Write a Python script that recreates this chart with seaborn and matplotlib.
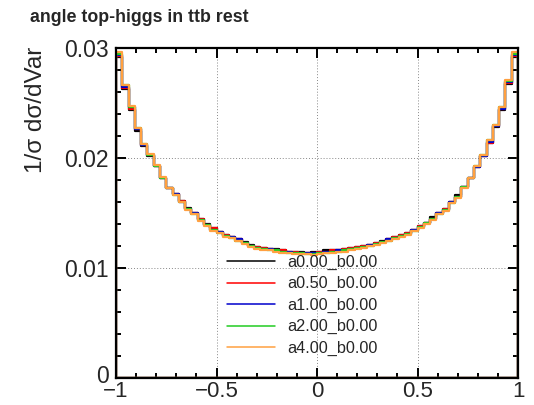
import numpy as np
import pandas as pd
import matplotlib
matplotlib.use("Agg")
import matplotlib.pyplot as plt
from matplotlib.lines import Line2D
from matplotlib.ticker import MultipleLocator
from matplotlib.transforms import ScaledTranslation
import seaborn as sns

# ---- data ----
n_bins = 64
x_min, x_max = -1.0, 1.0

series_names = ["a0.00_b0.00", "a0.50_b0.00", "a1.00_b0.00", "a2.00_b0.00", "a4.00_b0.00"]
series_colors = ["#000000", "#ff0000", "#0000cc", "#22cc22", "#ffa040"]

a000 = [0.0292, 0.0263, 0.0244, 0.0225, 0.0211, 0.0202, 0.0193, 0.0182, 0.0173, 0.0167, 0.0161, 0.0155,
        0.0150, 0.0145, 0.0140, 0.0136, 0.0133, 0.0130, 0.0128, 0.0126, 0.0124, 0.0121, 0.0119, 0.0118,
        0.0117, 0.0117, 0.0116, 0.0115, 0.0115, 0.0115, 0.0114, 0.0115,
        0.0115, 0.0116, 0.0116, 0.0116, 0.0117, 0.0118, 0.0119, 0.0120, 0.0121, 0.0123, 0.0125, 0.0126,
        0.0128, 0.0130, 0.0132, 0.0135, 0.0138, 0.0141, 0.0146, 0.0150, 0.0154, 0.0160, 0.0166, 0.0174,
        0.0182, 0.0192, 0.0202, 0.0214, 0.0228, 0.0244, 0.0267, 0.0292]
a050 = [0.0293, 0.0264, 0.0245, 0.0226, 0.0212, 0.0203, 0.0193, 0.0182, 0.0173, 0.0167, 0.0161, 0.0154,
        0.0150, 0.0145, 0.0139, 0.0136, 0.0133, 0.0130, 0.0128, 0.0126, 0.0123, 0.0120, 0.0119, 0.0118,
        0.0117, 0.0116, 0.0116, 0.0115, 0.0115, 0.0114, 0.0114, 0.0114,
        0.0115, 0.0115, 0.0116, 0.0116, 0.0117, 0.0118, 0.0119, 0.0120, 0.0121, 0.0123, 0.0124, 0.0126,
        0.0128, 0.0130, 0.0132, 0.0135, 0.0138, 0.0141, 0.0145, 0.0150, 0.0154, 0.0160, 0.0165, 0.0174,
        0.0182, 0.0192, 0.0202, 0.0214, 0.0229, 0.0245, 0.0268, 0.0293]
a100 = [0.0294, 0.0265, 0.0246, 0.0226, 0.0212, 0.0203, 0.0193, 0.0182, 0.0173, 0.0167, 0.0160, 0.0154,
        0.0150, 0.0144, 0.0139, 0.0135, 0.0133, 0.0129, 0.0128, 0.0126, 0.0123, 0.0120, 0.0118, 0.0117,
        0.0117, 0.0116, 0.0115, 0.0115, 0.0114, 0.0114, 0.0114, 0.0114,
        0.0114, 0.0115, 0.0115, 0.0116, 0.0116, 0.0117, 0.0118, 0.0119, 0.0121, 0.0122, 0.0124, 0.0126,
        0.0127, 0.0129, 0.0131, 0.0135, 0.0137, 0.0141, 0.0145, 0.0150, 0.0153, 0.0160, 0.0165, 0.0174,
        0.0182, 0.0192, 0.0202, 0.0215, 0.0229, 0.0245, 0.0269, 0.0294]
a200 = [0.0295, 0.0266, 0.0246, 0.0227, 0.0213, 0.0203, 0.0193, 0.0182, 0.0173, 0.0166, 0.0160, 0.0154,
        0.0149, 0.0144, 0.0139, 0.0135, 0.0132, 0.0129, 0.0127, 0.0125, 0.0123, 0.0120, 0.0118, 0.0117,
        0.0116, 0.0116, 0.0115, 0.0114, 0.0114, 0.0114, 0.0113, 0.0113,
        0.0114, 0.0114, 0.0115, 0.0115, 0.0116, 0.0117, 0.0118, 0.0119, 0.0120, 0.0122, 0.0124, 0.0125,
        0.0127, 0.0129, 0.0131, 0.0134, 0.0137, 0.0141, 0.0145, 0.0149, 0.0153, 0.0159, 0.0165, 0.0174,
        0.0182, 0.0193, 0.0203, 0.0216, 0.0230, 0.0246, 0.0270, 0.0295]
a400 = [0.0296, 0.0266, 0.0247, 0.0227, 0.0213, 0.0204, 0.0194, 0.0183, 0.0173, 0.0166, 0.0160, 0.0153,
        0.0149, 0.0143, 0.0138, 0.0134, 0.0132, 0.0128, 0.0127, 0.0125, 0.0122, 0.0119, 0.0117, 0.0116,
        0.0116, 0.0115, 0.0114, 0.0114, 0.0113, 0.0113, 0.0113, 0.0112,
        0.0113, 0.0114, 0.0114, 0.0115, 0.0115, 0.0116, 0.0117, 0.0118, 0.0120, 0.0121, 0.0123, 0.0125,
        0.0126, 0.0128, 0.0130, 0.0134, 0.0136, 0.0140, 0.0144, 0.0149, 0.0152, 0.0159, 0.0164, 0.0173,
        0.0182, 0.0193, 0.0203, 0.0216, 0.0230, 0.0246, 0.0271, 0.0296]
series_values = [a000, a050, a100, a200, a400]

title_text = "angle top-higgs in ttb rest"
y_title = "1/\u03c3 d\u03c3/dVar"
x_ticks = [-1, -0.5, 0, 0.5, 1]
x_ticklabels = ["\u22121", "\u22120.5", "0", "0.5", "1"]
y_ticks = [0, 0.01, 0.02, 0.03]
y_ticklabels = ["0", "0.01", "0.02", "0.03"]

# ---- build long table ----
edges = np.linspace(x_min, x_max, n_bins + 1)
centers = 0.5 * (edges[:-1] + edges[1:])
frames = []
for name, vals in zip(series_names, series_values):
    frames.append(pd.DataFrame({"x": centers, "w": vals, "series": name}))
df = pd.concat(frames, ignore_index=True)

# ---- plot ----
sns.set_theme(style="white")
plt.rcParams["font.family"] = ["Liberation Sans", "DejaVu Sans"]

fig = plt.figure(figsize=(5.34, 4.05), dpi=100)
ax = fig.add_axes([116 / 534, 1 - 378 / 405, (518 - 116) / 534, (378 - 48) / 405])

for name, color in zip(series_names, series_colors):
    sns.histplot(data=df[df["series"] == name], x="x", weights="w", bins=n_bins,
                 binrange=(x_min, x_max), element="step", fill=True, color=color,
                 facecolor="none", edgecolor=color, linewidth=1.6, ax=ax, legend=False)

ax.set_xlim(x_min, x_max)
ax.set_ylim(0, 0.03)
ax.set_xlabel("")
ax.set_ylabel("")

ax.set_xticks(x_ticks)
ax.set_xticklabels(x_ticklabels)
ax.set_yticks(y_ticks)
ax.set_yticklabels(y_ticklabels)
ax.xaxis.set_minor_locator(MultipleLocator(0.1))
ax.yaxis.set_minor_locator(MultipleLocator(0.002))
ax.tick_params(which="both", direction="in", top=True, right=True, bottom=True, left=True,
               color="black", width=1.4)
ax.tick_params(axis="y", which="major", length=7, labelsize=16.5, pad=5)
ax.tick_params(axis="x", which="major", length=7, labelsize=16, pad=2)
ax.tick_params(which="minor", length=3.8)
for lbl in ax.get_yticklabels():
    lbl.set_verticalalignment("center_baseline")
# lift the "0" label on y slightly so it doesn't touch the "-1" x label
zero_lbl = ax.get_yticklabels()[0]
zero_lbl.set_transform(zero_lbl.get_transform() + ScaledTranslation(0, 3 / 72, fig.dpi_scale_trans))

ax.grid(True, which="major", linestyle=(0, (1, 2)), color="#888888", linewidth=0.7)
for s in ax.spines.values():
    s.set_linewidth(1.6)
    s.set_color("black")
    s.set_visible(True)
    s.set_zorder(5)

handles = [Line2D([0], [0], color=c, linewidth=1.1) for c in series_colors]
leg = ax.legend(handles, series_names, loc="upper left", bbox_to_anchor=(0.26, 0.393),
                frameon=False, fontsize=11.7, handlelength=2.95, handletextpad=0.74,
                labelspacing=0.39, borderaxespad=0)

fig.text(30 / 534, 1 - 18 / 405, title_text, fontsize=12.8, fontweight="bold",
         ha="left", va="center")
fig.text(36 / 534, 1 - 47 / 405, y_title, fontsize=17.5, rotation=90, ha="center", va="top")

fig.savefig("out.png", dpi=100)
